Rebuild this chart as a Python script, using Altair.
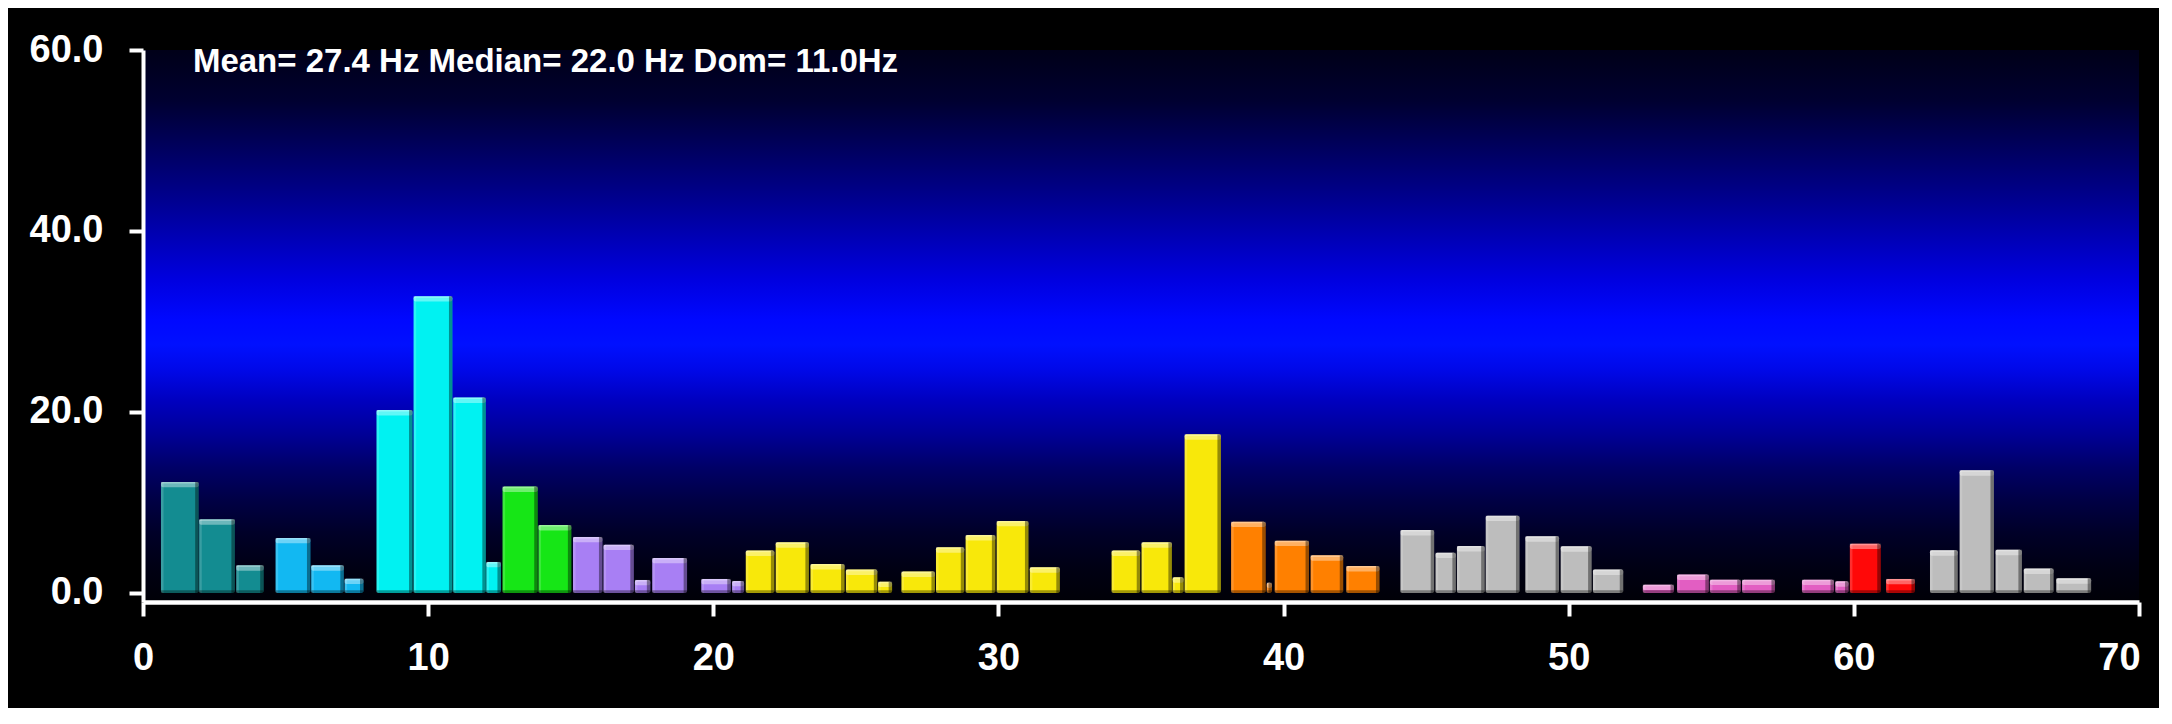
import altair as alt
import pandas as pd

# ---- data ----
x_start = [0.63, 1.97, 3.27,
           4.65, 5.90, 7.07,
           8.19, 9.49, 10.88, 12.04,
           12.61, 13.87,
           15.08, 16.15, 17.25, 17.86, 19.58, 20.66,
           21.14, 22.19, 23.41, 24.65, 25.78, 26.60, 27.81, 28.85, 29.94, 31.10,
           33.97, 35.02, 36.11, 36.53,
           38.16, 39.41, 39.69, 40.95, 42.20,
           44.10, 45.33, 46.08, 47.09, 48.48, 49.72, 50.85,
           52.60, 53.80, 54.95, 56.08, 58.18, 59.35,
           59.86, 61.13,
           62.67, 63.71, 64.97, 65.96, 67.10]
x_end = [1.95, 3.22, 4.23,
         5.87, 7.04, 7.73,
         9.45, 10.85, 12.02, 12.55,
         13.84, 15.02,
         16.11, 17.21, 17.79, 19.08, 20.61, 21.08,
         22.14, 23.35, 24.60, 25.75, 26.27, 27.77, 28.80, 29.89, 31.05, 32.15,
         34.97, 36.08, 36.49, 37.80,
         39.37, 39.59, 40.89, 42.09, 43.36,
         45.28, 46.04, 47.05, 48.27, 49.66, 50.80, 51.91,
         53.69, 54.91, 56.03, 57.23, 59.30, 59.81,
         60.94, 62.14,
         63.64, 64.91, 65.89, 67.00, 68.32]
values = [12.27, 8.14, 3.06,
          6.08, 3.06, 1.58,
          20.22, 32.8, 21.6, 3.43,
          11.75, 7.51,
          6.19, 5.34, 1.44, 3.87, 1.55, 1.33,
          4.68, 5.6, 3.2, 2.58, 1.25, 2.36, 5.05, 6.41, 7.96, 2.84,
          4.68, 5.6, 1.73, 17.53,
          7.88, 1.14, 5.78, 4.16, 2.98,
          6.96, 4.45, 5.19, 8.54, 6.26, 5.16, 2.58,
          0.92, 2.03, 1.47, 1.47, 1.47, 1.29,
          5.45, 1.55,
          4.72, 13.56, 4.78, 2.69, 1.62]
groups = (["teal"] * 3 + ["sky"] * 3 + ["cyan"] * 4 + ["green"] * 2 +
          ["purple"] * 6 + ["yellow"] * 14 + ["orange"] * 5 + ["gray"] * 7 +
          ["pink"] * 6 + ["red"] * 2 + ["gray"] * 5)

group_names = ["teal", "sky", "cyan", "green", "purple", "yellow",
               "orange", "gray", "pink", "red"]
group_colors = ["#138c91", "#12b8f2", "#00f2f2", "#16e616", "#a87ff4",
                "#f8e80a", "#ff8000", "#bdbdbd", "#e25ec2", "#ff0808"]

x_ticks = [0, 10, 20, 30, 40, 50, 60, 70]
y_ticks = [0, 20, 40, 60]
title_text = "Mean= 27.4 Hz Median= 22.0 Hz Dom= 11.0Hz"

df = pd.DataFrame({"x0": x_start, "x1": x_end, "v": values, "g": groups})

FONT = "Liberation Sans"

x_scale = alt.Scale(domain=[0, 70], nice=False, zero=False)
y_scale = alt.Scale(domain=[-1, 60], nice=False, zero=False)

x_axis = alt.Axis(values=x_ticks, format="d", title=None, grid=False,
                  domainColor="white", domainWidth=4.5, tickColor="white",
                  tickWidth=4, tickSize=14, labelPadding=23, offset=0,
                  labelColor="white", labelFontSize=38, labelFont=FONT,
                  labelFontWeight="bold", labelFlush=False,
                  labelOffset={"condition": {"test": "datum.value == 70", "value": -20},
                               "value": 0},
                  zindex=1)
y_axis = alt.Axis(values=y_ticks, format=".1f", title=None, grid=False,
                  domainColor="white", domainWidth=4, tickColor="white",
                  tickWidth=4, tickSize=14, labelPadding=26,
                  labelColor="white", labelFontSize=38, labelFont=FONT,
                  labelFontWeight="bold", labelFlush=False, zindex=1)

X = alt.X("x0:Q", scale=x_scale, axis=x_axis)
X2 = alt.X2("x1:Q")
Y = alt.Y("v:Q", scale=y_scale, axis=y_axis, stack=None)
Y0 = alt.datum(0)

base = alt.Chart(df)

bg_stops = [("#000018", 0.0), ("#000030", 0.091), ("#000060", 0.181),
            ("#000090", 0.272), ("#0000b8", 0.344), ("#0000e0", 0.417),
            ("#0008ff", 0.489), ("#0010ff", 0.534), ("#0008e8", 0.58),
            ("#0000c0", 0.634), ("#000098", 0.694), ("#000068", 0.755),
            ("#000045", 0.815), ("#000028", 0.875), ("#000014", 0.937),
            ("#000006", 1.0)]
bg_grad = alt.Gradient(
    gradient="linear", x1=0, y1=0, x2=0, y2=1,
    stops=[alt.GradientStop(color=c, offset=o) for c, o in bg_stops])

background = alt.Chart(pd.DataFrame({"k": [0]})).mark_rect(fill=bg_grad).encode(
    x=alt.datum(0, scale=x_scale, axis=x_axis), x2=alt.datum(70),
    y=alt.datum(-1, scale=y_scale, axis=y_axis), y2=alt.datum(60),
)

bars = base.mark_bar(cornerRadius=2).encode(
    x=X, x2=X2, y=Y, y2=Y0,
    color=alt.Color("g:N", scale=alt.Scale(domain=group_names, range=group_colors),
                    legend=None),
)

cap = base.transform_calculate(c0="max(0, datum.v - 0.6)").mark_bar(
    fill="white", opacity=0.38, cornerRadius=2
).encode(x=X, x2=X2, y=Y, y2="c0:Q")

cap_line = base.transform_calculate(c1="max(0, datum.v - 0.18)").mark_bar(
    fill="white", opacity=0.3
).encode(x=X, x2=X2, y=Y, y2="c1:Q")

left_hi = base.transform_calculate(xl="datum.x0 + 0.09").mark_bar(
    fill="white", opacity=0.16
).encode(x=X, x2="xl:Q", y=Y, y2=Y0)

right_sh = base.transform_calculate(xr="datum.x1 - 0.12").mark_bar(
    fill="black", opacity=0.4
).encode(x=alt.X("xr:Q", scale=x_scale, axis=x_axis), x2=X2, y=Y, y2=Y0)

bottom = base.transform_calculate(b1="min(datum.v, 0.3)").mark_bar(
    fill="black", opacity=0.35
).encode(x=X, x2=X2, y=alt.Y("b1:Q", scale=y_scale, axis=y_axis, stack=None),
         y2=Y0)

label = alt.Chart(pd.DataFrame({"t": [title_text]})).mark_text(
    align="left", baseline="middle", font=FONT, fontSize=33,
    fontWeight="bold", color="white"
).encode(x=alt.datum(1.75), y=alt.datum(58.67), text="t:N")

chart = alt.layer(background, bars, cap, cap_line, left_hi, right_sh, bottom,
                  label).properties(
    width=1996, height=552,
    autosize=alt.AutoSizeParams(type="none"),
    padding={"left": 135, "top": 42, "right": 20, "bottom": 106},
).configure(background="black").configure_view(strokeWidth=0)

chart.save("out.html", embed_options={"renderer": "svg", "actions": False})
